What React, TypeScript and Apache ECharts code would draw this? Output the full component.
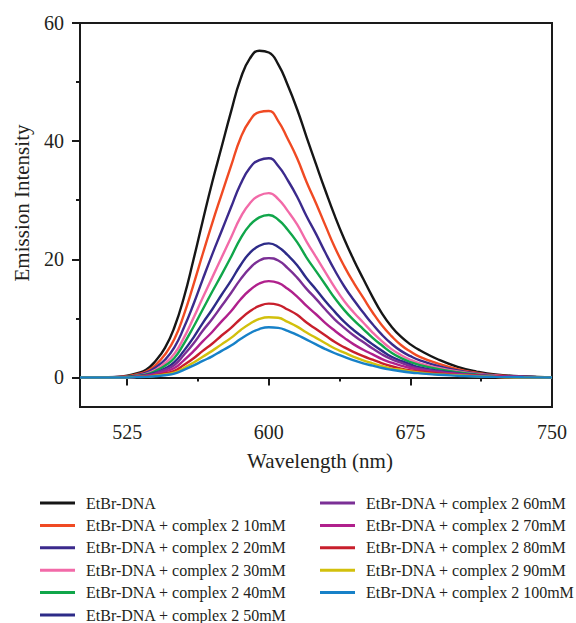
import React, { useEffect, useRef } from "react";
import * as echarts from "echarts";

const wavelengths = [500, 510, 520, 525, 530, 535, 540, 545, 550, 555, 560, 565, 570, 575, 580, 585, 590, 595, 600, 605, 610, 615, 620, 625, 630, 635, 640, 645, 650, 655, 660, 665, 670, 675, 680, 690, 700, 710, 720, 735, 750];

const seriesNames = [
  "EtBr-DNA",
  "EtBr-DNA + complex 2 10mM",
  "EtBr-DNA + complex 2 20mM",
  "EtBr-DNA + complex 2 30mM",
  "EtBr-DNA + complex 2 40mM",
  "EtBr-DNA + complex 2 50mM",
  "EtBr-DNA + complex 2 60mM",
  "EtBr-DNA + complex 2 70mM",
  "EtBr-DNA + complex 2 80mM",
  "EtBr-DNA + complex 2 90mM",
  "EtBr-DNA + complex 2 100mM",
];

const seriesColors = ["#161616", "#f04a23", "#3b2a8c", "#f26aa8", "#10a64a", "#2d2b88", "#7b2f95", "#b0208c", "#c81f2c", "#d2c00c", "#1781c8"];

const etbrDna = [0, 0, 0.1, 0.3, 0.7, 1.3, 2.8, 5.0, 8.5, 13.5, 19.8, 26.5, 33.0, 39.0, 45.0, 50.5, 54.0, 55.3, 55.0, 53.0, 49.5, 45.4, 40.7, 36.1, 31.6, 27.3, 23.4, 19.9, 16.7, 13.6, 10.8, 8.6, 6.9, 5.6, 4.6, 3.0, 1.8, 1.0, 0.5, 0.2, 0];
const c10 = [0, 0, 0.1, 0.2, 0.5, 1.0, 2.1, 3.9, 6.5, 10.6, 15.6, 20.9, 26.1, 31.0, 35.8, 40.5, 43.5, 44.9, 45.1, 43.4, 40.4, 37.1, 33.1, 29.5, 25.7, 22.0, 18.8, 16.0, 13.5, 11.0, 8.8, 7.0, 5.5, 4.4, 3.5, 2.3, 1.4, 0.8, 0.4, 0.1, 0];
const c20 = [0, 0, 0.1, 0.1, 0.4, 0.8, 1.7, 3.0, 5.1, 8.4, 12.3, 16.6, 20.8, 24.8, 28.8, 32.7, 35.5, 36.8, 37.1, 35.8, 33.4, 30.6, 27.3, 24.3, 21.1, 18.1, 15.4, 13.1, 11.0, 9.0, 7.2, 5.7, 4.5, 3.6, 2.9, 1.9, 1.2, 0.7, 0.3, 0.1, 0];
const c30 = [0, 0, 0, 0.1, 0.3, 0.6, 1.3, 2.4, 4.0, 6.7, 10.0, 13.5, 16.9, 20.3, 23.7, 27.1, 29.5, 30.8, 31.2, 30.2, 28.2, 25.9, 23.0, 20.4, 17.8, 15.2, 12.9, 11.0, 9.3, 7.6, 6.1, 4.8, 3.8, 3.0, 2.4, 1.6, 1.0, 0.6, 0.3, 0.1, 0];
const c40 = [0, 0, 0, 0.1, 0.3, 0.5, 1.1, 2.0, 3.3, 5.7, 8.5, 11.5, 14.5, 17.4, 20.4, 23.5, 25.8, 27.1, 27.5, 26.7, 25.0, 22.9, 20.3, 18.0, 15.7, 13.4, 11.4, 9.7, 8.2, 6.7, 5.4, 4.2, 3.3, 2.6, 2.1, 1.4, 0.9, 0.5, 0.2, 0.1, 0];
const c50 = [0, 0, 0, 0.1, 0.2, 0.4, 0.8, 1.5, 2.6, 4.5, 6.7, 9.2, 11.5, 14.0, 16.4, 19.0, 21.1, 22.3, 22.7, 22.1, 20.7, 19.0, 16.8, 14.9, 12.9, 11.1, 9.4, 8.0, 6.8, 5.6, 4.5, 3.5, 2.8, 2.2, 1.7, 1.1, 0.7, 0.4, 0.2, 0.1, 0];
const c60 = [0, 0, 0, 0, 0.2, 0.3, 0.7, 1.3, 2.1, 3.8, 5.7, 7.9, 9.9, 12.1, 14.3, 16.6, 18.5, 19.8, 20.2, 19.8, 18.5, 16.9, 15.0, 13.3, 11.5, 9.8, 8.4, 7.1, 6.0, 4.9, 3.9, 3.1, 2.5, 1.9, 1.5, 1.0, 0.6, 0.4, 0.2, 0.1, 0];
const c70 = [0, 0, 0, 0, 0.1, 0.3, 0.5, 1.0, 1.6, 2.9, 4.4, 6.1, 7.7, 9.5, 11.2, 13.2, 14.8, 15.9, 16.3, 16.0, 15.0, 13.7, 12.1, 10.7, 9.2, 7.9, 6.7, 5.6, 4.7, 3.9, 3.1, 2.5, 2.0, 1.6, 1.3, 0.8, 0.6, 0.3, 0.2, 0.1, 0];
const c80 = [0, 0, 0, 0, 0.1, 0.2, 0.4, 0.7, 1.1, 2.1, 3.2, 4.5, 5.7, 7.1, 8.4, 9.9, 11.2, 12.1, 12.5, 12.3, 11.5, 10.6, 9.3, 8.2, 7.1, 6.0, 5.1, 4.3, 3.6, 3.0, 2.4, 1.9, 1.5, 1.2, 1.0, 0.7, 0.4, 0.3, 0.1, 0, 0];
const c90 = [0, 0, 0, 0, 0.1, 0.1, 0.3, 0.5, 0.8, 1.6, 2.5, 3.5, 4.5, 5.6, 6.7, 8.0, 9.1, 9.9, 10.2, 10.1, 9.4, 8.6, 7.6, 6.7, 5.8, 4.9, 4.2, 3.5, 2.9, 2.4, 1.9, 1.5, 1.3, 1.0, 0.8, 0.5, 0.4, 0.2, 0.1, 0, 0];
const c100 = [0, 0, 0, 0, 0.05, 0.1, 0.2, 0.38, 0.64, 1.28, 2.0, 2.8, 3.57, 4.5, 5.4, 6.5, 7.48, 8.2, 8.5, 8.4, 7.9, 7.2, 6.4, 5.6, 4.8, 4.1, 3.5, 2.9, 2.4, 2.0, 1.6, 1.3, 1.05, 0.85, 0.7, 0.45, 0.3, 0.17, 0.1, 0.04, 0];

const allValues = [etbrDna, c10, c20, c30, c40, c50, c60, c70, c80, c90, c100];

const xMajorTicks = [525, 600, 675, 750];
const xMinorTicks = [562.5, 637.5, 712.5];
const yMajorTicks = [0, 20, 40, 60];
const yMinorTicks = [10, 30, 50];

const FONT = "'Liberation Serif', 'Times New Roman', serif";
const TEXT = "#231f20";
const AXIS = "#1a1a1a";

export default function App() {
  const ref = useRef<HTMLDivElement>(null);
  useEffect(() => {
    document.body.style.margin = "0";
    const chart = echarts.init(ref.current!, null, { renderer: "svg" });
    const lineStyleAxis = { color: AXIS, width: 2 };
    const legendText = { fontSize: 16, fontFamily: FONT, color: TEXT, padding: [0, 0, 0, 6] };
    const legends = seriesNames.map((name, i) => {
      const col = i < 6 ? 0 : 1;
      const row = i < 6 ? i : i - 6;
      return {
        data: [name],
        orient: "vertical",
        left: col === 0 ? 40 : 320,
        top: 495 + row * 22.4,
        itemWidth: 35,
        itemHeight: 3,
        icon: "rect",
        padding: 0,
        textStyle: legendText,
      };
    });
    const option: any = {
      animation: false,
      backgroundColor: "#ffffff",
      grid: { left: 80, right: 24, top: 23, bottom: 216, show: true, borderColor: AXIS, borderWidth: 2, containLabel: false },
      xAxis: [
        {
          type: "value", min: 500, max: 750, position: "bottom",
          axisLine: { lineStyle: lineStyleAxis },
          axisTick: { customValues: xMajorTicks, length: 8, lineStyle: lineStyleAxis },
          axisLabel: { customValues: xMajorTicks, fontSize: 20, fontFamily: FONT, color: TEXT, margin: 15 },
          splitLine: { show: false },
          name: "Wavelength (nm)", nameLocation: "middle", nameGap: 43,
          nameTextStyle: { fontSize: 21, fontFamily: FONT, color: TEXT, padding: [0, 0, 0, 8] },
        },
        {
          type: "value", min: 500, max: 750, position: "bottom",
          axisLine: { show: false },
          axisTick: { customValues: xMinorTicks, length: 4, lineStyle: lineStyleAxis },
          axisLabel: { show: false },
          splitLine: { show: false },
        },
      ],
      yAxis: [
        {
          type: "value", min: -5, max: 60, position: "left",
          axisLine: { show: true, lineStyle: lineStyleAxis },
          axisTick: { show: true, customValues: yMajorTicks, length: 8, lineStyle: lineStyleAxis },
          axisLabel: { customValues: yMajorTicks, fontSize: 20, fontFamily: FONT, color: TEXT, margin: 16 },
          splitLine: { show: false },
          name: "Emission Intensity", nameLocation: "middle", nameGap: 48, nameRotate: 90,
          nameTextStyle: { fontSize: 21, fontFamily: FONT, color: TEXT, padding: [0, 0, 0, 24] },
        },
        {
          type: "value", min: -5, max: 60, position: "left",
          axisLine: { show: false },
          axisTick: { show: true, customValues: yMinorTicks, length: 4, lineStyle: lineStyleAxis },
          axisLabel: { show: false },
          splitLine: { show: false },
        },
      ],
      legend: legends,
      series: seriesNames.map((name, i) => ({
        name,
        type: "line",
        xAxisIndex: 0,
        yAxisIndex: 0,
        data: wavelengths.map((w, j) => [w, allValues[i][j]]),
        showSymbol: false,
        symbol: "none",
        smooth: 0.5,
        lineStyle: { color: seriesColors[i], width: 2.4 },
        itemStyle: { color: seriesColors[i] },
        emphasis: { disabled: true },
      })),
    };
    chart.setOption(option);
    return () => chart.dispose();
  }, []);
  return <div ref={ref} style={{ width: 576, height: 623 }} />;
}
